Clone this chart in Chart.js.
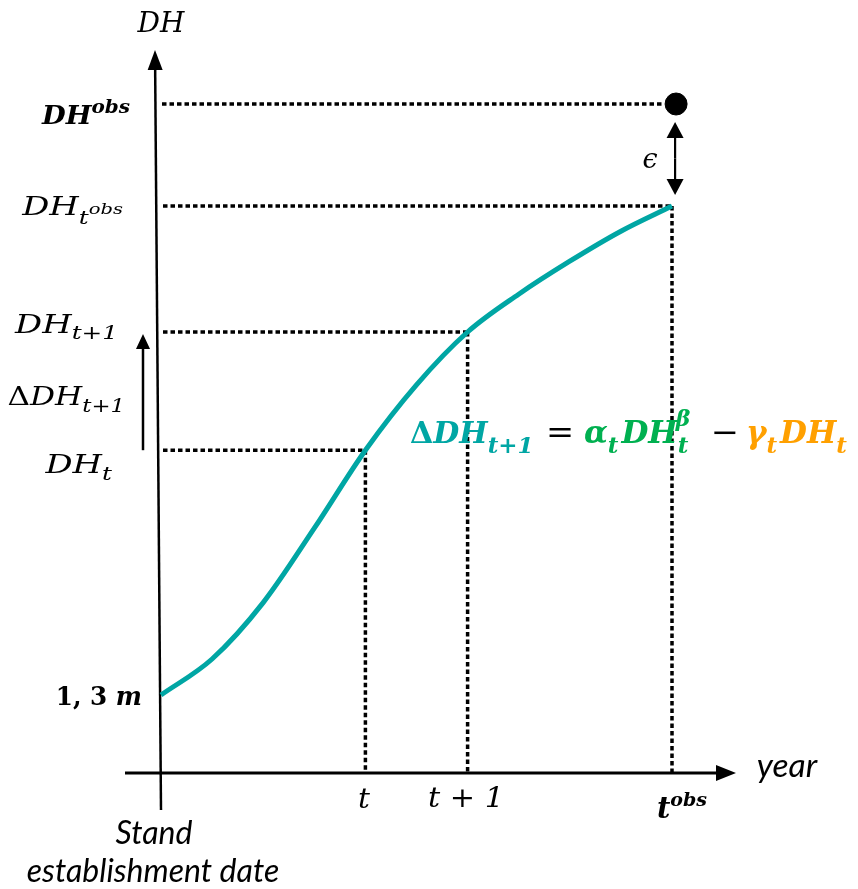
<!DOCTYPE html>
<html>
<head>
<meta charset="utf-8">
<script src="https://cdn.jsdelivr.net/npm/chart.js@4.4.1/dist/chart.umd.min.js"></script>
<style>
  html, body { margin: 0; padding: 0; background: #fff; }
  canvas { display: block; }
</style>
</head>
<body>
<canvas id="grafico" width="858" height="889"></canvas>
<script>
// Curva de crescimento da altura dominante (DH) desde a data de instalação
const anos = [0, 2.5, 5, 7.5, 10, 12.5, 15, 17.5, 20, 22.5, 25];
const alturas = [1.3, 1.9, 2.84, 4.08, 5.38, 6.47, 7.35, 7.98, 8.53, 9.03, 9.45];

// Marcas no eixo dos anos: t, t+1, t_obs
const anosMarcados = [10, 15, 25];
// Níveis de DH: DH_t, DH_t+1, DH_tobs, DH_obs
const niveisDH = [5.38, 7.35, 9.45, 11.15];
// Altura observada
const obsX = [25.2];
const obsY = [11.15];

const TEAL = "#00A6A4";
const VERDE = "#00B050";
const LARANJA = "#FFA000";
const SERIF = "'DejaVu Serif'";
const SANS = "Lato";

// desenha texto composto (sub/sobrescritos); k estica na horizontal
function textoComposto(ctx, x, y, partes, alinhar, k) {
    k = k || 1;
    const fonte = p => `${p.it === false ? "" : "italic "}${p.b ? "bold " : ""}${p.sz}px ${p.f || SERIF}`;
    let largura = 0;
    partes.forEach(p => {
        if (p.over) return;
        ctx.font = fonte(p);
        largura += ctx.measureText(p.s).width + (p.gap || 0);
    });
    const x0 = alinhar === "right" ? x - largura * k : alinhar === "center" ? x - largura * k / 2 : x;
    ctx.save();
    ctx.translate(x0, y);
    ctx.scale(k, 1);
    ctx.textBaseline = "alphabetic";
    ctx.textAlign = "left";
    let cx = 0, anterior = 0;
    partes.forEach(p => {
        ctx.font = fonte(p);
        ctx.fillStyle = p.c || "#000";
        if (p.over) {
            ctx.fillText(p.s, anterior + (p.dx || 0), p.dy || 0);
            return;
        }
        ctx.fillText(p.s, cx + (p.dx || 0), p.dy || 0);
        anterior = cx;
        cx += ctx.measureText(p.s).width + (p.gap || 0);
    });
    ctx.restore();
}

function seta(ctx, x1, y1, x2, y2, comp, larg) {
    const ang = Math.atan2(y2 - y1, x2 - x1);
    ctx.beginPath();
    ctx.moveTo(x1, y1);
    ctx.lineTo(x2 - Math.cos(ang) * comp * 0.8, y2 - Math.sin(ang) * comp * 0.8);
    ctx.stroke();
    ctx.beginPath();
    ctx.moveTo(x2, y2);
    ctx.lineTo(x2 - Math.cos(ang) * comp - Math.sin(ang) * larg / 2, y2 - Math.sin(ang) * comp + Math.cos(ang) * larg / 2);
    ctx.lineTo(x2 - Math.cos(ang) * comp + Math.sin(ang) * larg / 2, y2 - Math.sin(ang) * comp - Math.cos(ang) * larg / 2);
    ctx.closePath();
    ctx.fill();
}

const esquema = {
    id: "esquema",
    beforeDatasetsDraw(chart) {
        const ctx = chart.ctx;
        const sx = chart.scales.x, sy = chart.scales.y;
        const x0 = sx.getPixelForValue(0);
        const y0 = sy.getPixelForValue(0);
        ctx.save();
        ctx.strokeStyle = "#000";
        ctx.fillStyle = "#000";

        // linhas pontilhadas de referência
        ctx.lineWidth = 3.5;
        ctx.setLineDash([4.5, 3]);
        anosMarcados.forEach((a, i) => {
            const px = sx.getPixelForValue(a), py = sy.getPixelForValue(niveisDH[i]);
            ctx.beginPath();
            ctx.moveTo(x0 + 2, py); ctx.lineTo(px, py);
            ctx.stroke();
            ctx.beginPath();
            ctx.moveTo(px, py); ctx.lineTo(px, y0);
            ctx.stroke();
        });
        const pyObs = sy.getPixelForValue(niveisDH[3]);
        ctx.beginPath();
        ctx.moveTo(x0 + 1, pyObs); ctx.lineTo(sx.getPixelForValue(obsX[0]) - 12, pyObs);
        ctx.stroke();
        ctx.setLineDash([]);

        // eixos
        ctx.lineWidth = 2.5;
        seta(ctx, x0, 810, x0 - 6, 50, 20, 15);
        ctx.lineWidth = 3;
        seta(ctx, 125, y0, 736, y0, 20, 16);

        // seta do incremento ΔDH
        ctx.lineWidth = 2.5;
        seta(ctx, 143, sy.getPixelForValue(niveisDH[0]), 143, sy.getPixelForValue(niveisDH[1]) + 2, 15, 14);

        // seta dupla do erro ε
        const xe = sx.getPixelForValue(obsX[0]) - 1;
        const ya = pyObs + 18, yb = sy.getPixelForValue(niveisDH[2]) - 11;
        ctx.lineWidth = 2.2;
        seta(ctx, xe, (ya + yb) / 2, xe, ya, 16, 17);
        seta(ctx, xe, (ya + yb) / 2, xe, yb, 16, 17);
        ctx.restore();
    },
    afterDatasetsDraw(chart) {
        const ctx = chart.ctx;
        ctx.save();
        // rótulos do eixo DH
        textoComposto(ctx, 161, 32, [{ s: "DH", sz: 28 }], "center");
        textoComposto(ctx, 130, 124, [{ s: "DH", sz: 26, b: true }, { s: "obs", sz: 19, b: true, dy: -11 }], "right", 1.05);
        textoComposto(ctx, 123, 215, [{ s: "DH", sz: 26 }, { s: "t", sz: 19, dy: 9 }, { s: "obs", sz: 15, dy: -1 }], "right", 1.3);
        textoComposto(ctx, 118, 333, [{ s: "DH", sz: 26 }, { s: "t+1", sz: 19, dy: 6 }], "right", 1.3);
        textoComposto(ctx, 125, 405, [{ s: "Δ", sz: 26, it: false }, { s: "DH", sz: 26 }, { s: "t+1", sz: 19, dy: 7 }], "right", 1.2);
        textoComposto(ctx, 112, 473, [{ s: "DH", sz: 26 }, { s: "t", sz: 19, dy: 7 }], "right", 1.3);
        textoComposto(ctx, 142, 705, [{ s: "1, 3 ", sz: 26, b: true, it: false }, { s: "m", sz: 26, b: true }], "right", 0.95);

        // rótulos do eixo dos anos
        textoComposto(ctx, 364, 808, [{ s: "t", sz: 27 }], "center", 1.1);
        textoComposto(ctx, 466, 807, [{ s: "t + 1", sz: 27 }], "center", 1.12);
        textoComposto(ctx, 682, 818, [{ s: "t", sz: 29, b: true }, { s: "obs", sz: 19, b: true, dy: -12 }], "center");
        textoComposto(ctx, 787, 777, [{ s: "year", sz: 32, f: SANS }], "center", 1.05);
        textoComposto(ctx, 154, 844, [{ s: "Stand", sz: 32, f: SANS }], "center");
        textoComposto(ctx, 153, 882, [{ s: "establishment date", sz: 32, f: SANS }], "center");
        textoComposto(ctx, 650, 168, [{ s: "ϵ", sz: 27 }], "center");

        // equação do incremento
        const yEq = 443;
        textoComposto(ctx, 410, yEq, [
            { s: "Δ", sz: 30, b: true, it: false, c: TEAL },
            { s: "DH", sz: 30, b: true, c: TEAL },
            { s: "t+1", sz: 23, b: true, dy: 10, c: TEAL }
        ]);
        textoComposto(ctx, 546, yEq, [{ s: "=", sz: 32, it: false }], "left", 1.05);
        textoComposto(ctx, 584, yEq, [
            { s: "α", sz: 31, b: true, c: VERDE },
            { s: "t", sz: 23, b: true, dy: 10, c: VERDE, gap: 3 },
            { s: "DH", sz: 31, b: true, c: VERDE },
            { s: "t", sz: 23, b: true, dy: 10, c: VERDE },
            { s: "β", sz: 22, b: true, dy: -17, c: VERDE, over: true, dx: -2 }
        ]);
        textoComposto(ctx, 711, yEq, [{ s: "−", sz: 32, it: false }], "left", 1.05);
        textoComposto(ctx, 746, yEq, [
            { s: "γ", sz: 31, b: true, c: LARANJA },
            { s: "t", sz: 23, b: true, dy: 10, c: LARANJA, gap: 3 },
            { s: "DH", sz: 31, b: true, c: LARANJA },
            { s: "t", sz: 23, b: true, dy: 10, c: LARANJA }
        ]);
        ctx.restore();
    }
};

new Chart(document.getElementById("grafico"), {
    type: "scatter",
    data: {
        datasets: [
            {
                data: anos.map((a, i) => ({ x: a, y: alturas[i] })),
                showLine: true,
                borderColor: TEAL,
                borderWidth: 5,
                pointRadius: 0,
                cubicInterpolationMode: "monotone",
                clip: false
            },
            {
                data: obsX.map((a, i) => ({ x: a, y: obsY[i] })),
                pointRadius: 11,
                backgroundColor: "#000",
                borderColor: "#000",
                clip: false
            }
        ]
    },
    options: {
        responsive: false,
        animation: false,
        layout: { padding: { left: 161, right: 186, top: 53, bottom: 116 } },
        scales: {
            x: { type: "linear", min: 0, max: 25, display: false },
            y: { type: "linear", min: 0, max: 12, display: false }
        },
        plugins: { legend: { display: false }, tooltip: { enabled: false } }
    },
    plugins: [esquema]
});
</script>
</body>
</html>
